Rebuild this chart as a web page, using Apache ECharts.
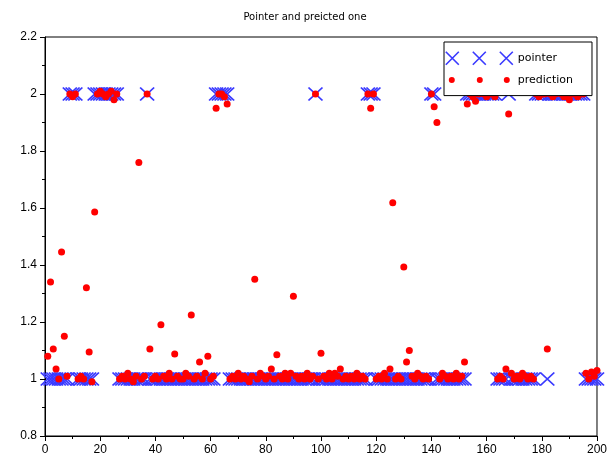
<!DOCTYPE html>
<html>
<head>
<meta charset="utf-8">
<script src="https://cdn.jsdelivr.net/npm/echarts@6/dist/echarts.min.js"></script>
<style>
html, body { margin: 0; padding: 0; background: #fff; }
#chart { width: 610px; height: 468px; }
</style>
</head>
<body>
<div id="chart"></div>
<script>
// sample index runs 1..200
var pointer = [
  1,1,1,1,1,1,1,1,2,2, 2,1,1,1,1,1,1,2,2,2,
  2,2,2,2,2,2,1,1,1,1, 1,1,1,1,1,1,2,1,1,1,
  1,1,1,1,1,1,1,1,1,1, 1,1,1,1,1,1,1,1,1,1,
  1,2,2,2,2,2,1,1,1,1, 1,1,1,1,1,1,1,1,1,1,
  1,1,1,1,1,1,1,1,1,1, 1,1,1,1,1,1,1,2,1,1,
  1,1,1,1,1,1,1,1,1,1, 1,1,1,1,1,1,2,2,2,1,
  1,1,1,1,1,1,1,1,1,1, 1,1,1,1,1,1,1,1,1,2,
  2,1,1,1,1,1,1,1,1,1, 1,1,2,2,2,2,2,2,2,2,
  2,2,2,1,1,1,1,2,1,1, 1,1,1,1,1,1,1,2,2,2,
  2,1,2,2,2,2,2,2,2,2, 2,2,2,2,2,1,1,1,1,1
];

var prediction = [
  1.08, 1.34, 1.105, 1.035, 1.00, 1.446, 1.15, 1.01, 2.00, 1.99,
  2.00, 1.00, 1.01, 1.00, 1.32, 1.095, 0.99, 1.586, 2.00, 2.01,
  2.00, 1.99, 2.00, 2.01, 1.98, 2.00, 1.00, 1.01, 1.00, 1.02,
  1.00, 0.99, 1.01, 1.76, 1.00, 1.01, 2.00, 1.105, 1.00, 1.01,
  1.00, 1.19, 1.01, 1.00, 1.02, 1.00, 1.088, 1.01, 1.00, 1.00,
  1.02, 1.01, 1.225, 1.00, 1.01, 1.06, 1.00, 1.02, 1.08, 1.00,
  1.01, 1.95, 2.00, 2.00, 1.99, 1.965, 1.00, 1.01, 1.00, 1.02,
  1.00, 1.01, 1.00, 0.99, 1.01, 1.35, 1.00, 1.02, 1.01, 1.00,
  1.01, 1.035, 1.00, 1.085, 1.01, 1.00, 1.02, 1.00, 1.02, 1.29,
  1.01, 1.00, 1.01, 1.00, 1.02, 1.00, 1.01, 2.00, 1.00, 1.09,
  1.01, 1.00, 1.02, 1.00, 1.02, 1.01, 1.035, 1.00, 1.01, 1.00,
  1.01, 1.00, 1.02, 1.00, 1.01, 1.00, 2.00, 1.95, 2.00, 1.00,
  1.01, 1.00, 1.02, 1.00, 1.035, 1.618, 1.00, 1.01, 1.00, 1.393,
  1.06, 1.10, 1.01, 1.00, 1.02, 1.01, 1.00, 1.01, 1.00, 2.00,
  1.955, 1.90, 1.00, 1.02, 1.01, 1.00, 1.01, 1.00, 1.02, 1.00,
  1.01, 1.06, 1.965, 2.00, 1.99, 1.975, 2.00, 2.01, 2.00, 1.99,
  2.00, 2.00, 1.99, 1.00, 1.01, 1.00, 1.035, 1.93, 1.02, 1.00,
  1.01, 1.00, 1.02, 1.01, 1.00, 1.01, 1.00, 2.00, 1.99, 2.00,
  2.00, 1.105, 2.00, 1.99, 2.00, 2.01, 2.00, 1.99, 2.00, 1.98,
  2.00, 2.00, 1.99, 2.00, 2.00, 1.02, 1.00, 1.025, 1.01, 1.03
];

var pointerData = pointer.map(function (v, i) { return [i + 1, v]; });
var predictionData = prediction.map(function (v, i) { return [i + 1, v]; });

var crossIcon = 'path://M0,0L13,13M13,0L0,13M27,0L40,13M40,0L27,13M54,0L67,13M67,0L54,13';
var dotIcon = 'path://M0,0M67,13M3,6.5a3,3 0 1,0 6,0a3,3 0 1,0 -6,0' +
  'M31,6.5a3,3 0 1,0 6,0a3,3 0 1,0 -6,0' +
  'M58,6.5a3,3 0 1,0 6,0a3,3 0 1,0 -6,0';

var chart = echarts.init(document.getElementById('chart'), null, { renderer: 'canvas' });

var option = {
  animation: false,
  title: {
    text: 'Pointer and preicted one',
    left: 'center',
    top: 7,
    textStyle: { fontFamily: 'DejaVu Sans', fontSize: 10, fontWeight: 'normal', color: '#000' }
  },
  legend: {
    left: 444,
    top: 42,
    orient: 'vertical',
    padding: [9, 19, 9, 1],
    itemGap: 8,
    itemWidth: 67,
    itemHeight: 13,
    backgroundColor: '#fff',
    borderColor: '#000',
    borderWidth: 1,
    selectedMode: false,
    textStyle: { fontFamily: 'DejaVu Sans', fontSize: 11, color: '#000' },
    itemStyle: { borderWidth: 1.6 },
    data: [
      { name: 'pointer', icon: crossIcon },
      { name: 'prediction', icon: dotIcon, itemStyle: { borderWidth: 0 } }
    ]
  },
  grid: {
    left: 45, right: 12, top: 37, bottom: 32,
    show: true, borderColor: '#000', borderWidth: 1, backgroundColor: '#fff'
  },
  xAxis: {
    type: 'value',
    min: 0, max: 200, interval: 20,
    axisLine: { lineStyle: { color: '#000', width: 1 } },
    axisTick: { show: true, inside: false, length: 5, lineStyle: { color: '#000' } },
    minorTick: { show: true, splitNumber: 2, length: 3, lineStyle: { color: '#000' } },
    splitLine: { show: false },
    axisLabel: { fontFamily: 'Liberation Sans', fontSize: 12, color: '#000', margin: 8 }
  },
  yAxis: {
    type: 'value',
    min: 0.8, max: 2.2, interval: 0.2,
    axisLine: { show: true, lineStyle: { color: '#000', width: 1 } },
    axisTick: { show: true, inside: false, length: 5, lineStyle: { color: '#000' } },
    minorTick: { show: true, splitNumber: 2, length: 3, lineStyle: { color: '#000' } },
    splitLine: { show: false },
    axisLabel: {
      fontFamily: 'Liberation Sans', fontSize: 12, color: '#000', margin: 8,
      formatter: function (v) { return String(Math.round(v * 10) / 10); }
    }
  },
  series: [
    {
      name: 'pointer',
      type: 'scatter',
      silent: true,
      symbol: 'path://M0,0L14,13M14,0L0,13',
      symbolSize: [14, 13],
      itemStyle: { color: 'transparent', borderColor: '#3a3aff', borderWidth: 1.8, opacity: 1 },
      data: pointerData
    },
    {
      name: 'prediction',
      type: 'scatter',
      silent: true,
      symbol: 'circle',
      symbolSize: 7,
      itemStyle: { color: '#ff0000', opacity: 1 },
      data: predictionData
    }
  ]
};

chart.setOption(option);
</script>
</body>
</html>
